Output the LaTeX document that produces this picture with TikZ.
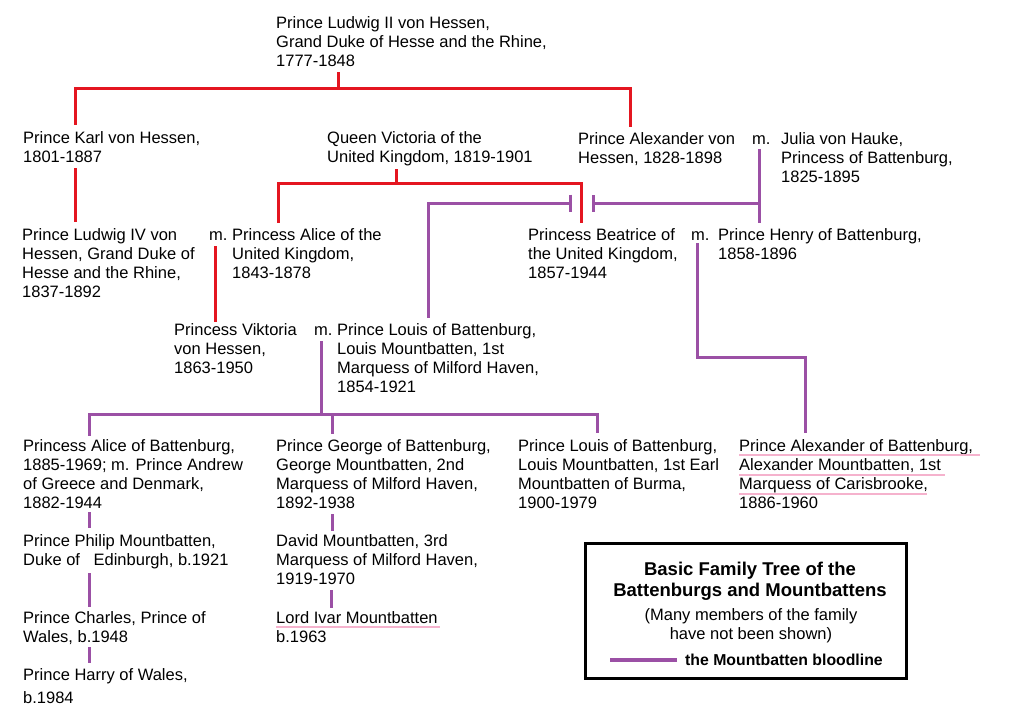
\documentclass[tikz,border=0pt]{standalone}
\usepackage{fontspec}
\setmainfont{Liberation Sans}
\usetikzlibrary{arrows.meta}

\definecolor{treered}{RGB}{228,22,32}
\definecolor{bloodpurple}{RGB}{155,80,165}
\definecolor{rulepink}{RGB}{245,178,205}
\newcommand{\personsize}{\fontsize{16.5}{19}\selectfont}
\newcommand{\titlesize}{\fontsize{18.5}{21}\selectfont\bfseries}
\newcommand{\keysize}{\fontsize{15.8}{18}\selectfont\bfseries}

\begin{document}
\begin{tikzpicture}[x=1pt,y=-1pt]
\tikzset{
  person/.style={anchor=north west,align=left,inner sep=0pt,font=\personsize},
  wed/.style={person,text height=12pt},
  redline/.style={draw=treered,line width=3pt},
  purpleline/.style={draw=bloodpurple,line width=3pt},
  pinkrule/.style={draw=rulepink,line width=2.5pt}
}
\useasboundingbox[fill=white] (0,0) rectangle (1010,728);
% generation 1 and 2
\node[person] (ludwigII) at (276,16) {Prince Ludwig II von Hessen,\\Grand Duke of Hesse and the Rhine,\\1777-1848};
\node[person] (karl) at (23,131) {Prince Karl von Hessen,\\1801-1887};
\node[person] (victoria) at (327,131) {Queen Victoria of the\\United Kingdom, 1819-1901};
\node[person] (alexander) at (578,132) {Prince Alexander von\\Hessen, 1828-1898};
\node[wed] (m_julia) at (752,132) {m.};
\node[person] (julia) at (781,132) {Julia von Hauke,\\Princess of Battenburg,\\1825-1895};
% generation 3
\node[person] (ludwigIV) at (22,228) {Prince Ludwig IV von\\Hessen, Grand Duke of\\Hesse and the Rhine,\\1837-1892};
\node[wed] (m_alice) at (209,228) {m.};
\node[person] (alice) at (232,228) {Princess Alice of the\\United Kingdom,\\1843-1878};
\node[person] (beatrice) at (528,228) {Princess Beatrice of\\the United Kingdom,\\1857-1944};
\node[wed] (m_henry) at (691,228) {m.};
\node[person] (henry) at (718,228) {Prince Henry of Battenburg,\\1858-1896};
% generation 4
\node[person] (viktoria) at (174,323) {Princess Viktoria\\von Hessen,\\1863-1950};
\node[wed] (m_louis) at (314,323) {m.};
\node[person] (louis) at (337,323) {Prince Louis of Battenburg,\\Louis Mountbatten, 1st\\Marquess of Milford Haven,\\1854-1921};
% generation 5
\node[person] (aliceB) at (23,439) {Princess Alice of Battenburg,\\1885-1969; m. Prince Andrew\\of Greece and Denmark,\\1882-1944};
\node[person] (george) at (276,439) {Prince George of Battenburg,\\George Mountbatten, 2nd\\Marquess of Milford Haven,\\1892-1938};
\node[person] (louisB) at (518,439) {Prince Louis of Battenburg,\\Louis Mountbatten, 1st Earl\\Mountbatten of Burma,\\1900-1979};
\node[person] (alexB) at (739,439) {Prince Alexander of Battenburg,\\Alexander Mountbatten, 1st\\Marquess of Carisbrooke,\\1886-1960};
% later generations
\node[person] (philip) at (23,534) {Prince Philip Mountbatten,\\Duke of\hspace{9pt} Edinburgh, b.1921};
\node[person] (charles) at (23,611) {Prince Charles, Prince of\\Wales, b.1948};
\node[person] (harry) at (23,668) {Prince Harry of Wales,\\[4pt]b.1984};
\node[person] (david) at (276,534) {David Mountbatten, 3rd\\Marquess of Milford Haven,\\1919-1970};
\node[person] (ivar) at (276,611) {Lord Ivar Mountbatten\\b.1963};
% underlines
\draw[pinkrule] (alexB.north west) ++(0,16) -- ++(241,0);
\draw[pinkrule] (alexB.north west) ++(0,36) -- ++(206,0);
\draw[pinkrule] (alexB.north west) ++(0,55) -- ++(188,0);
\draw[pinkrule] (ivar.north west) ++(0,16) -- ++(164,0);
% legend
\draw[line width=3pt] (585,543) rectangle (906,678);
\node[align=center,anchor=north,inner sep=0pt,font=\titlesize] (legendtitle) at (750,562) {Basic Family Tree of the\\Battenburgs and Mountbattens};
\node[align=center,anchor=north,inner sep=0pt,font=\personsize] (legendnote) at (751,608) {(Many members of the family\\have not been shown)};
\node[anchor=north west,inner sep=0pt,font=\keysize] (legendkey) at (685,654) {the Mountbatten bloodline};
\draw[purpleline,line width=4pt] ([xshift=-8pt]legendkey.west) -- ++(-67,0);
% red connectors
\coordinate (ludwigII_out) at (338,72);
\coordinate (karl_in) at (75,125);
\coordinate (alexander_in) at (630,127);
\coordinate (karl_out) at (75,168);
\coordinate (ludwigIV_in) at (75,222);
\coordinate (victoria_out) at (396,169);
\coordinate (alice_in) at (278,223);
\coordinate (beatrice_in) at (581,223);
\coordinate (hesse_out) at (215,246);
\coordinate (viktoria_in) at (215,322);
\draw[redline] (ludwigII_out) -- ++(0,16) coordinate (ludwigII_bus) -| (karl_in);
\draw[redline] (ludwigII_bus) -| (alexander_in);
\draw[redline] (karl_out) -- (ludwigIV_in);
\draw[redline] (victoria_out) -- ++(0,14) coordinate (victoria_bus) -| (alice_in);
\draw[redline] (victoria_bus) -| (beatrice_in);
\draw[redline] (hesse_out) -- (viktoria_in);
% purple connectors
\coordinate (julia_out) at (759,149);
\coordinate (henry_in) at (759,223);
\coordinate (bridge_right) at (592,203);
\coordinate (bridge_left) at (572,203);
\coordinate (louis_in) at (428,318);
\coordinate (battenberg_out) at (697,243);
\coordinate (alexB_in) at (805,433);
\coordinate (louis_out) at (321,341);
\coordinate (aliceB_in) at (89,436);
\coordinate (george_in) at (332,434);
\coordinate (louisB_in) at (597,433);
\draw[purpleline] (julia_out) -- (henry_in);
\draw[purpleline,-{Bar[width=17pt]}] (julia_out |- bridge_right) -- (bridge_right);
\draw[purpleline,{Bar[width=17pt]}-] (bridge_left) -| (louis_in);
\draw[purpleline] (battenberg_out) -- ++(0,114) -| (alexB_in);
\draw[purpleline] (louis_out) -- ++(0,73) coordinate (louis_bus) -| (aliceB_in);
\draw[purpleline] (louis_bus) -| (louisB_in);
\draw[purpleline] (george_in |- louis_bus) -- (george_in);
\coordinate (aliceB_out) at (89,512);
\coordinate (philip_in) at (89,528);
\coordinate (philip_out) at (89,573);
\coordinate (charles_in) at (89,607);
\coordinate (charles_out) at (89,647);
\coordinate (harry_in) at (89,663);
\coordinate (george_out) at (332,514);
\coordinate (david_in) at (332,531);
\coordinate (david_out) at (331,590);
\coordinate (ivar_in) at (331,608);
\draw[purpleline] (aliceB_out) -- (philip_in);
\draw[purpleline] (philip_out) -- (charles_in);
\draw[purpleline] (charles_out) -- (harry_in);
\draw[purpleline] (george_out) -- (david_in);
\draw[purpleline] (david_out) -- (ivar_in);
\end{tikzpicture}
\end{document}
